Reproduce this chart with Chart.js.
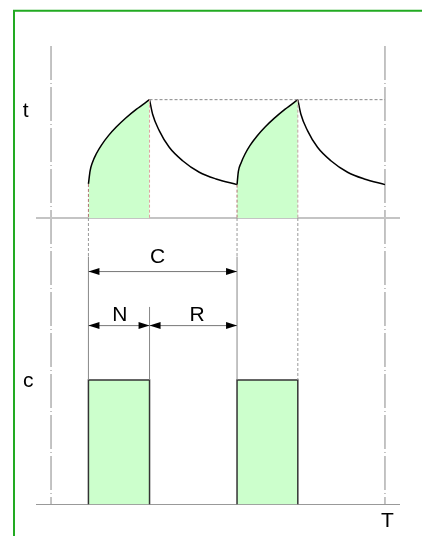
<!DOCTYPE html>
<html lang="en">
<head>
  <meta charset="UTF-8">
  <title>Charge / rest cycle</title>
  <script src="https://cdn.jsdelivr.net/npm/chart.js"></script>
  <style>
    html, body { margin: 0; padding: 0; background: #fff; }
    canvas { display: block; }
  </style>
</head>
<body>
  <canvas id="cycleChart" width="422" height="536"></canvas>

  <script>
    // time axis: 0 and 100 are the dashed limits (T = 100)
    const timeStart = 0;
    const timeEnd = 100;
    const pulseOn = [11.2, 55.7];
    const pulseOff = [29.5, 73.9];
    const pulseLevel = 1;

    // t curve (top panel)
    const rise1X = [11.2, 11.7, 12.4, 13.6, 15.1, 17.2, 19.6, 22.3, 25.6, 29.5];
    const rise1Y = [19.8, 27.4, 32.3, 37.5, 42.4, 47.9, 53.0, 58.0, 63.3, 68.8];
    const fall1X = [29.5, 30.4, 32.4, 35.4, 39.4, 44.4, 49.4, 55.7];
    const fall1Y = [68.8, 60.5, 50.8, 41.1, 33.3, 26.6, 22.7, 19.4];
    const rise2X = [55.7, 56.1, 56.9, 58.1, 59.6, 61.7, 64.1, 66.8, 70.1, 73.9];
    const rise2Y = [19.4, 27.1, 32.0, 37.2, 42.2, 47.7, 52.9, 57.9, 63.3, 68.8];
    const fall2X = [73.9, 74.8, 76.8, 79.8, 83.8, 88.8, 93.8, 100];
    const fall2Y = [68.8, 60.5, 50.8, 41.1, 33.3, 26.6, 22.7, 19.4];
    const peakT = 68.8;

    // dimension rows in the c panel
    const cycleRowC = 1.87;
    const splitRowC = 1.436;
    const extTopC = 1.99;
    const splitExtTopC = 1.586;

    const labels = { top: 't', bottom: 'c', time: 'T', cycle: 'C', on: 'N', rest: 'R' };

    const pts = (xs, ys) => xs.map((x, i) => ({ x: x, y: ys[i] }));
    const pulse = (a, b) => [{ x: a, y: 0 }, { x: a, y: pulseLevel }, { x: b, y: pulseLevel }, { x: b, y: 0 }];

    const green = '#ccffcc';
    const curve = (data, filled) => ({
      data: data, yAxisID: 'yT', borderColor: '#000', borderWidth: 1.5,
      pointRadius: 0, cubicInterpolationMode: 'monotone',
      fill: filled ? 'origin' : false, backgroundColor: green
    });
    const bar = (data) => ({
      data: data, yAxisID: 'yC', borderColor: '#333', borderWidth: 1.5,
      pointRadius: 0, tension: 0, fill: 'origin', backgroundColor: green
    });

    const font = '21px "Liberation Sans", Arial, sans-serif';

    function line(ctx, x1, y1, x2, y2, color, width, dash) {
      ctx.save();
      ctx.strokeStyle = color;
      ctx.lineWidth = width;
      ctx.setLineDash(dash || []);
      ctx.beginPath();
      ctx.moveTo(x1, y1);
      ctx.lineTo(x2, y2);
      ctx.stroke();
      ctx.restore();
    }

    function head(ctx, x, y, dir) {
      ctx.beginPath();
      ctx.moveTo(x, y);
      ctx.lineTo(x - dir * 11, y - 3.5);
      ctx.lineTo(x - dir * 11, y + 3.5);
      ctx.closePath();
      ctx.fill();
    }

    function arrow(ctx, x1, x2, y) {
      line(ctx, x1, y, x2, y, '#777', 1);
      ctx.fillStyle = '#000';
      head(ctx, x1, y, -1);
      head(ctx, x2, y, 1);
    }

    const diagram = {
      id: 'diagram',
      beforeDatasetsDraw(chart) {
        const { ctx, chartArea: a, scales: { x, yT, yC } } = chart;
        // frame
        ctx.save();
        ctx.strokeStyle = '#22aa22';
        ctx.lineWidth = 2;
        ctx.beginPath();
        ctx.moveTo(14, chart.height);
        ctx.lineTo(14, 10.7);
        ctx.lineTo(chart.width, 10.7);
        ctx.stroke();
        ctx.restore();

        // dash-dot limits
        [timeStart, timeEnd].forEach(v => {
          const px = x.getPixelForValue(v);
          line(ctx, px, a.top, px, yC.getPixelForValue(0), '#888', 1, [34, 3, 1, 3]);
        });

        // base lines
        line(ctx, a.left, yT.getPixelForValue(0), a.right, yT.getPixelForValue(0), '#c4c4c4', 2);
        line(ctx, a.left, yC.getPixelForValue(0), a.right, yC.getPixelForValue(0), '#999', 1);
      },
      afterDatasetsDraw(chart) {
        const { ctx, scales: { x, yT, yC } } = chart;
        const dot = [3, 2];

        // level of the peaks
        line(ctx, x.getPixelForValue(pulseOff[0]), yT.getPixelForValue(peakT),
          x.getPixelForValue(timeEnd), yT.getPixelForValue(peakT), '#888', 1, dot);

        // start of each charge: dotted down to the dimension lines, then solid to the bar
        [[pulseOn[0], rise1Y[0]], [pulseOn[1], rise2Y[0]]].forEach(([v, t0]) => {
          const px = x.getPixelForValue(v);
          line(ctx, px, yT.getPixelForValue(t0), px, yT.getPixelForValue(0), '#b07070', 1, dot);
          line(ctx, px, yT.getPixelForValue(0), px, yC.getPixelForValue(extTopC), '#999', 1, dot);
          line(ctx, px, yC.getPixelForValue(extTopC), px, yC.getPixelForValue(pulseLevel), '#888', 1);
        });

        // peaks
        let px = x.getPixelForValue(pulseOff[0]);
        line(ctx, px, yT.getPixelForValue(peakT), px, yT.getPixelForValue(0), '#e0a0a0', 1, dot);
        line(ctx, px, yC.getPixelForValue(splitExtTopC), px, yC.getPixelForValue(pulseLevel), '#888', 1);
        px = x.getPixelForValue(pulseOff[1]);
        line(ctx, px, yT.getPixelForValue(peakT), px, yT.getPixelForValue(0), '#c0a0a0', 1, dot);
        line(ctx, px, yT.getPixelForValue(0), px, yC.getPixelForValue(pulseLevel), '#999', 1, dot);

        // dimension arrows
        arrow(ctx, x.getPixelForValue(pulseOn[0]), x.getPixelForValue(pulseOn[1]), yC.getPixelForValue(cycleRowC));
        arrow(ctx, x.getPixelForValue(pulseOn[0]), x.getPixelForValue(pulseOff[0]), yC.getPixelForValue(splitRowC));
        arrow(ctx, x.getPixelForValue(pulseOff[0]), x.getPixelForValue(pulseOn[1]), yC.getPixelForValue(splitRowC));

        // labels
        ctx.save();
        ctx.font = font;
        ctx.fillStyle = '#000';
        ctx.textAlign = 'center';
        ctx.textBaseline = 'alphabetic';
        ctx.fillText(labels.top, x.getPixelForValue(-7.6), yT.getPixelForValue(58.5));
        ctx.fillText(labels.bottom, x.getPixelForValue(-6.8), yC.getPixelForValue(0.94));
        ctx.fillText(labels.time, x.getPixelForValue(100.7), yC.getPixelForValue(-0.183));
        ctx.fillText(labels.cycle, x.getPixelForValue(31.9), yC.getPixelForValue(1.942));
        ctx.fillText(labels.on, x.getPixelForValue(20.6), yC.getPixelForValue(1.476));
        ctx.fillText(labels.rest, x.getPixelForValue(43.7), yC.getPixelForValue(1.476));
        ctx.restore();
      }
    };

    new Chart(document.getElementById('cycleChart'), {
      type: 'line',
      data: {
        datasets: [
          curve(pts(rise1X, rise1Y), true),
          curve(pts(fall1X, fall1Y), false),
          curve(pts(rise2X, rise2Y), true),
          curve(pts(fall2X, fall2Y), false),
          bar(pulse(pulseOn[0], pulseOff[0])),
          bar(pulse(pulseOn[1], pulseOff[1]))
        ]
      },
      options: {
        responsive: false,
        animation: false,
        devicePixelRatio: 1,
        layout: { padding: { left: 36, right: 22, top: 46, bottom: 31.5 } },
        plugins: { legend: { display: false }, tooltip: { enabled: false } },
        scales: {
          x: { type: 'linear', min: -4.5, max: 104.5, display: false },
          yC: { type: 'linear', position: 'left', stack: 'panels', stackWeight: 286.5, min: 0, max: 2.3, display: false },
          yT: { type: 'linear', position: 'left', stack: 'panels', stackWeight: 172, min: 0, max: 100, display: false }
        }
      },
      plugins: [diagram]
    });
  </script>
</body>
</html>
